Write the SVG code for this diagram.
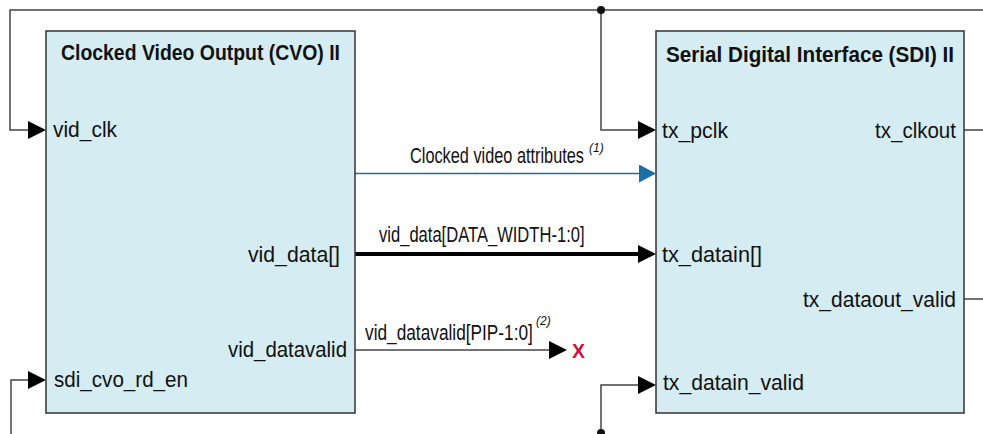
<svg xmlns="http://www.w3.org/2000/svg" width="983" height="434" viewBox="0 0 983 434">
<style>
.box{fill:#d5ecf3;stroke:#333;stroke-width:1.5}
.title{font-family:"Liberation Sans",Arial,sans-serif;font-weight:bold;font-size:22px;fill:#111}
.lbl{font-family:"Liberation Sans",Arial,sans-serif;font-size:22px;fill:#111}
.sup{font-family:"Liberation Sans",Arial,sans-serif;font-style:italic;font-size:12px;fill:#111}
.w{fill:none;stroke:#444;stroke-width:1.5}
.wa{fill:none;stroke:#444;stroke-width:1.5;marker-end:url(#ah)}
.thick{fill:none;stroke:#000;stroke-width:4;marker-end:url(#ah)}
.blue{fill:none;stroke:#1a6fa6;stroke-width:1.5;marker-end:url(#ahb)}
</style>
<defs>
<marker id="ah" markerUnits="userSpaceOnUse" markerWidth="18" markerHeight="18" refX="0" refY="9" orient="auto"><path d="M0,0 L18,9 L0,18 z" fill="#000"/></marker>
<marker id="ahb" markerUnits="userSpaceOnUse" markerWidth="17" markerHeight="18" refX="0" refY="9" orient="auto"><path d="M0,0 L17,9 L0,18 z" fill="#1a6fa6"/></marker>
</defs>
<rect width="983" height="434" fill="#fff"/>
<g id="connectors">
<path class="wa" d="M983,10 H10 V130 H28"/>
<path class="wa" d="M601,10 V130 H638"/>
<circle cx="601" cy="10" r="4" fill="#111"/>
<path class="w" d="M964,130 H983"/>
<path class="w" d="M964,299 H983"/>
<path class="blue" d="M355,173.5 H639"/>
<text class="lbl" transform="translate(410 163) scale(0.741 1)">Clocked video attributes</text>
<text class="sup" x="589" y="152">(1)</text>
<path class="thick" d="M355,254 H638"/>
<text class="lbl" transform="translate(379 242) scale(0.753 1)">vid_data[DATA_WIDTH-1:0]</text>
<path class="wa" d="M355,350 H549"/>
<text class="lbl" transform="translate(365 340) scale(0.785 1)">vid_datavalid[PIP-1:0]</text>
<text class="sup" x="536" y="325">(2)</text>
<text x="572" y="358" font-family="Liberation Sans,Arial,sans-serif" font-weight="bold" font-size="20" fill="#d0103a" textLength="13" lengthAdjust="spacingAndGlyphs">X</text>
<path class="wa" d="M11,434 V380 H28"/>
<path class="wa" d="M601,434 V385 H638"/>
<circle cx="601" cy="433" r="4" fill="#111"/>
</g>
<g id="cvo">
<rect class="box" x="46" y="31" width="309" height="382"/>
<text class="title" x="61" y="60" textLength="279" lengthAdjust="spacingAndGlyphs">Clocked Video Output (CVO) II</text>
<text class="lbl" x="53" y="137" textLength="64" lengthAdjust="spacingAndGlyphs">vid_clk</text>
<text class="lbl" x="248" y="262" textLength="92" lengthAdjust="spacingAndGlyphs">vid_data[]</text>
<text class="lbl" x="228" y="357" textLength="119" lengthAdjust="spacingAndGlyphs">vid_datavalid</text>
<text class="lbl" x="54" y="387" textLength="134" lengthAdjust="spacingAndGlyphs">sdi_cvo_rd_en</text>
</g>
<g id="sdi">
<rect class="box" x="656" y="31" width="308" height="382"/>
<text class="title" x="666" y="62" textLength="288" lengthAdjust="spacingAndGlyphs">Serial Digital Interface (SDI) II</text>
<text class="lbl" x="662" y="138" textLength="66" lengthAdjust="spacingAndGlyphs">tx_pclk</text>
<text class="lbl" x="875" y="138" textLength="81" lengthAdjust="spacingAndGlyphs">tx_clkout</text>
<text class="lbl" x="662" y="262" textLength="100" lengthAdjust="spacingAndGlyphs">tx_datain[]</text>
<text class="lbl" x="803" y="307" textLength="153" lengthAdjust="spacingAndGlyphs">tx_dataout_valid</text>
<text class="lbl" x="663" y="390" textLength="141" lengthAdjust="spacingAndGlyphs">tx_datain_valid</text>
</g>
</svg>
